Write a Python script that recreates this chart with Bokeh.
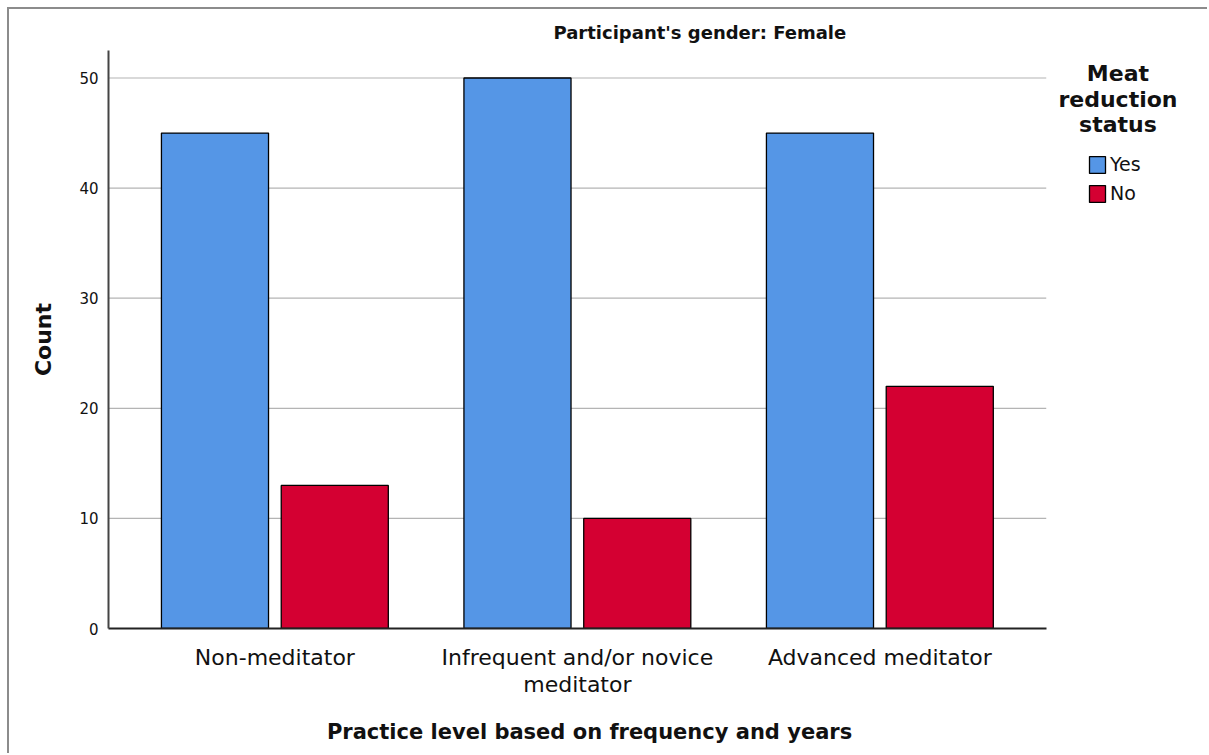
import numpy as np
from bokeh.plotting import figure
from bokeh.models import Legend, LegendItem, FixedTicker, Range1d, Label
from bokeh.embed import file_html
from bokeh.resources import INLINE

categories = ["Non-meditator", "Infrequent and/or novice\nmeditator", "Advanced meditator"]
series_names = ["Yes", "No"]
yes_counts = [45, 50, 45]
no_counts = [13, 10, 22]
y_ticks = [0, 10, 20, 30, 40, 50]
legend_title_lines = ["Meat", "reduction", "status"]
x_title = "Practice level based on frequency and years"
y_title = "Count"
chart_title = "Participant's gender: Female"

colors = {"Yes": "#5596E6", "No": "#D40032"}
FONT = "DejaVu Sans"
TXT = "#111111"

# category axis extent, plus extra room on the right of the frame for the legend
X0, X1, X_LEG = -0.55, 2.55, 3.0897
Y_TOP = 52.5

p = figure(width=1200, height=746, output_backend="svg", toolbar_location=None,
           x_range=Range1d(X0, X_LEG), y_range=Range1d(0, Y_TOP),
           min_border_left=99, min_border_right=0, min_border_top=41, min_border_bottom=127)
p.styles = {"margin-left": "7px", "margin-top": "7px",
            "border-left": "2px solid #8c8c8c", "border-top": "2px solid #8c8c8c"}
p.outline_line_color = None
p.background_fill_color = "white"
p.border_fill_color = "white"

# horizontal grid lines limited to the plot area
grid_y = y_ticks[1:]
p.segment(x0=[X0] * len(grid_y), x1=[X1] * len(grid_y), y0=grid_y, y1=grid_y,
          line_color="#b4b4b4", line_width=1.2)

xs = np.arange(len(categories))
bw = 0.354
off = 0.198
r_yes = p.vbar(x=xs - off, top=yes_counts, width=bw, fill_color=colors["Yes"],
               line_color="black", line_width=1.3)
r_no = p.vbar(x=xs + off, top=no_counts, width=bw, fill_color=colors["No"],
              line_color="black", line_width=1.3)

p.title.text = chart_title
p.title.text_font = FONT
p.title.text_font_size = "18px"
p.title.text_font_style = "bold"
p.title.text_color = TXT
p.title.align = "left"
p.title.offset = 445
p.title.standoff = 16

p.xaxis.bounds = (X0, X1)
p.xaxis.ticker = FixedTicker(ticks=list(xs))
p.xaxis.major_label_overrides = {int(i): c for i, c in zip(xs, categories)}
p.xaxis.major_label_text_font = FONT
p.xaxis.major_label_text_font_size = "22px"
p.xaxis.major_label_text_color = TXT
p.xaxis.major_label_text_line_height = 1.1
p.xaxis.major_tick_line_color = None
p.xaxis.minor_tick_line_color = None
p.xaxis.major_label_standoff = 10
p.xaxis.axis_line_color = "#222222"
p.xaxis.axis_line_width = 2
# trailing no-break spaces shift the centred label over the plot area
p.xaxis.axis_label = x_title + "\u00a0" * 19
p.xaxis.axis_label_text_font = FONT
p.xaxis.axis_label_text_font_size = "21px"
p.xaxis.axis_label_text_font_style = "bold"
p.xaxis.axis_label_text_color = TXT
p.xaxis.axis_label_standoff = 20

p.yaxis.ticker = FixedTicker(ticks=y_ticks)
p.yaxis.major_label_text_font = FONT
p.yaxis.major_label_text_font_size = "15px"
p.yaxis.major_label_text_color = TXT
p.yaxis.major_tick_line_color = None
p.yaxis.minor_tick_line_color = None
p.yaxis.major_label_standoff = 4
p.yaxis.axis_line_color = "#444444"
p.yaxis.axis_line_width = 2
p.yaxis.axis_label = y_title
p.yaxis.axis_label_text_font = FONT
p.yaxis.axis_label_text_font_size = "22px"
p.yaxis.axis_label_text_font_style = "bold"
p.yaxis.axis_label_text_color = TXT
p.yaxis.axis_label_standoff = 20

p.xgrid.grid_line_color = None
p.ygrid.grid_line_color = None

# legend (inside the frame's extra room on the right)
legend = Legend(items=[LegendItem(label=s, renderers=[r])
                       for s, r in zip(series_names, [r_yes, r_no])],
                location=(979, 424))
legend.label_text_font = FONT
legend.label_text_font_size = "19px"
legend.label_text_color = TXT
legend.glyph_width = 20
legend.glyph_height = 21
legend.label_standoff = 3
legend.spacing = 7
legend.border_line_color = None
legend.background_fill_alpha = 0
legend.padding = 0
legend.margin = 0
p.add_layout(legend)

title_x = 2.787
title_y = [50.37, 48.05, 45.75]
for line, ty in zip(legend_title_lines, title_y):
    p.add_layout(Label(x=title_x, y=ty, text=line, text_align="center",
                       text_baseline="alphabetic", text_font=FONT,
                       text_font_size="22px", text_font_style="bold", text_color=TXT))

open("out.html", "w").write(file_html(p, INLINE))
